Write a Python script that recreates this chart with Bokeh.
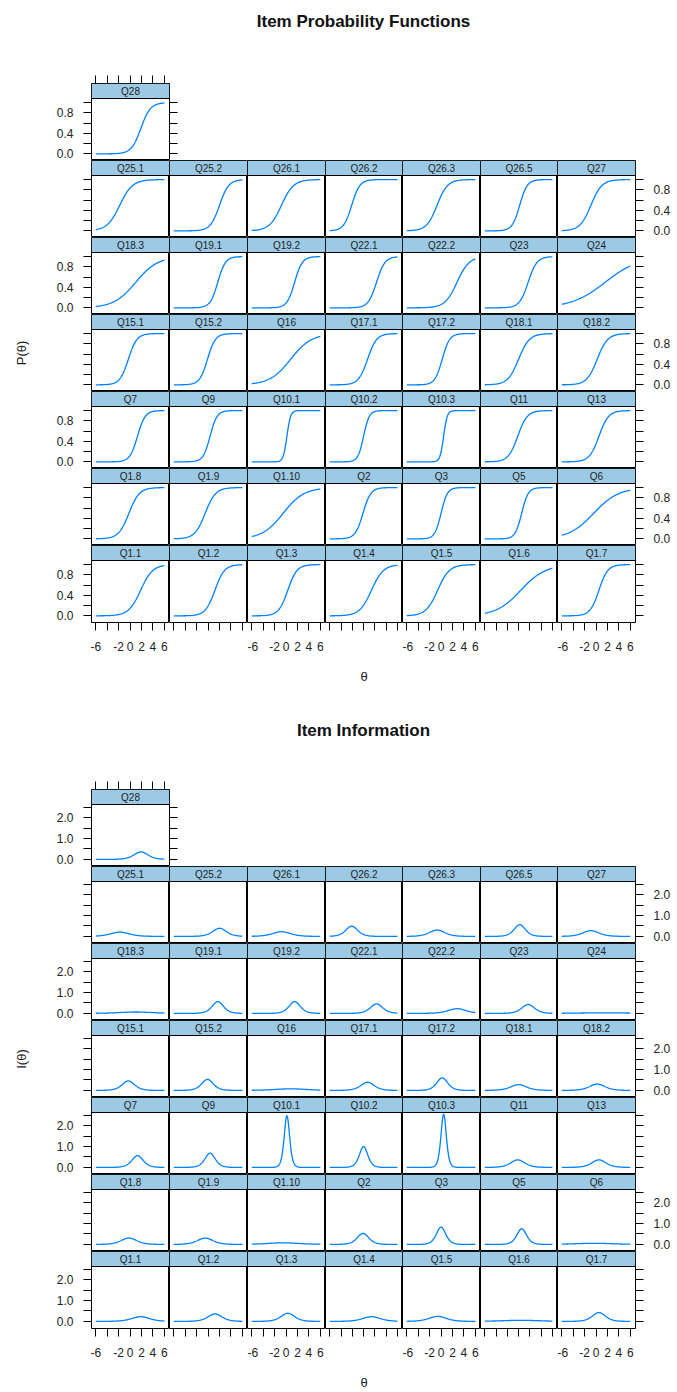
import numpy as np
from bokeh.plotting import figure
from bokeh.models import Range1d, LinearAxis, FixedTicker, PrintfTickFormatter
from bokeh.core.properties import value
from bokeh.layouts import column, row
from bokeh.embed import file_html
from bokeh.resources import INLINE

# ---------------- data ----------------
panel_rows = [
    ["Q28"],
    ["Q25.1", "Q25.2", "Q26.1", "Q26.2", "Q26.3", "Q26.5", "Q27"],
    ["Q18.3", "Q19.1", "Q19.2", "Q22.1", "Q22.2", "Q23", "Q24"],
    ["Q15.1", "Q15.2", "Q16", "Q17.1", "Q17.2", "Q18.1", "Q18.2"],
    ["Q7", "Q9", "Q10.1", "Q10.2", "Q10.3", "Q11", "Q13"],
    ["Q1.8", "Q1.9", "Q1.10", "Q2", "Q3", "Q5", "Q6"],
    ["Q1.1", "Q1.2", "Q1.3", "Q1.4", "Q1.5", "Q1.6", "Q1.7"],
]
item_names = [n for r in panel_rows for n in r]
# item discrimination (slope) and difficulty (location), per item above
discrimination = [1.20,
                  0.90, 1.25, 0.95, 1.40, 1.10, 1.50, 1.05,
                  0.52, 1.50, 1.50, 1.35, 0.95, 1.30, 0.34,
                  1.35, 1.45, 0.55, 1.25, 1.55, 1.05, 1.10,
                  1.50, 1.65, 3.15, 2.00, 3.20, 1.20, 1.20,
                  1.10, 1.10, 0.55, 1.45, 1.82, 1.73, 0.46,
                  0.95, 1.20, 1.25, 0.95, 0.98, 0.46, 1.30]
difficulty = [1.90,
              -1.80, 2.00, -0.80, -2.10, -0.70, 0.20, -0.90,
              1.00, 1.70, 1.50, 2.30, 2.80, 1.70, 1.60,
              -0.30, -0.10, 0.80, 0.70, 0.20, 0.00, 0.20,
              1.30, 0.35, 0.15, 0.00, 0.45, -0.15, 0.50,
              -0.20, -0.50, -0.50, -0.10, 0.00, 0.55, -0.40,
              1.85, 1.20, 0.30, 1.40, -0.60, 0.40, 0.50]
theta = np.linspace(-6, 6, 121)

x_ticks_labeled = [-6, -2, 0, 2, 4, 6]
x_ticks_unlabeled = [-4]
p_ticks_labeled = [0.0, 0.4, 0.8]
p_ticks_unlabeled = [0.2, 0.6, 1.0]
i_ticks_labeled = [0.0, 1.0, 2.0]
i_ticks_unlabeled = [0.5, 1.5, 2.5]

params = dict(zip(item_names, zip(discrimination, difficulty)))


def prob(name):
    a, b = params[name]
    return 1.0 / (1.0 + np.exp(-a * (theta - b)))


def info(name):
    a, b = params[name]
    pr = prob(name)
    return a * a * pr * (1 - pr)


# ---------------- layout constants ----------------
COL_W = [78, 78, 78, 77, 78, 77, 78]
L_BORDER, R_BORDER = 91, 42
FRAME_H, STRIP_H = 77, 15
PANEL_H = FRAME_H - STRIP_H
TICK = 8
X_LO, X_HI = -6.75, 6.9
FONT = "Liberation Sans"
LINE_COLOR = "#0080ff"
STRIP_COLOR = "#9ccae5"
TEXT_COLOR = "#222222"


def make_axis(ticks, minor, labels, fmt, standoff=10, axis_label=None, label_standoff=0):
    if labels:
        ticker = FixedTicker(ticks=ticks, minor_ticks=minor)
    else:
        ticker = FixedTicker(ticks=[], minor_ticks=sorted(list(ticks) + list(minor)))
    ax = LinearAxis(ticker=ticker, formatter=PrintfTickFormatter(format=fmt))
    ax.axis_line_color = None
    ax.major_tick_in = 0
    ax.minor_tick_in = 0
    ax.major_tick_out = TICK
    ax.minor_tick_out = TICK
    ax.major_tick_line_color = "black"
    ax.minor_tick_line_color = "black"
    ax.major_label_text_font = FONT
    ax.major_label_text_color = TEXT_COLOR
    ax.major_label_text_font_size = "12px"
    ax.major_label_standoff = standoff if labels else 0
    if axis_label:
        ax.axis_label = axis_label
        ax.axis_label_standoff = label_standoff
        ax.axis_label_text_font = FONT
        ax.axis_label_text_font_style = "normal"
        ax.axis_label_text_font_size = "13px"
        ax.axis_label_text_color = TEXT_COLOR
    return ax


def panel(name, c, k, cfg):
    top_row = (k == 7)
    lb = L_BORDER if c == 0 else 0
    rb = R_BORDER if c == 6 else (10 if top_row else 0)
    tb = 10 if top_row else 0
    bb = cfg["bottom"] if k == 1 else 0
    ylo, yhi = cfg["ylim"]
    yend = yhi + (yhi - ylo) * STRIP_H / PANEL_H
    p = figure(frame_width=COL_W[c], frame_height=FRAME_H,
               x_range=Range1d(X_LO, X_HI), y_range=Range1d(ylo, yend),
               x_axis_location=None, y_axis_location=None,
               output_backend="svg", toolbar_location=None,
               title_location=None,
               min_border_left=lb, min_border_right=rb,
               min_border_top=tb, min_border_bottom=bb,
               outline_line_color="black", outline_line_width=1,
               background_fill_color="white", border_fill_color="white")
    p.extra_y_ranges = {"strip": Range1d(-PANEL_H / STRIP_H, 1)}
    p.xgrid.visible = False
    p.ygrid.visible = False
    # strip
    p.quad(left=[X_LO], right=[X_HI], bottom=[0], top=[1], y_range_name="strip",
           fill_color=STRIP_COLOR, line_color="black", line_width=1)
    p.text(x=[(X_LO + X_HI) / 2], y=[0.45], text=[name], y_range_name="strip",
           text_font=value(FONT), text_font_size="10px", text_color=TEXT_COLOR,
           text_align="center", text_baseline="middle")
    # curve
    p.line(theta, cfg["fn"](name), line_color=LINE_COLOR, line_width=1.3)

    yt, ym = cfg["yticks"]
    # left axis
    if c == 0:
        if k % 2 == 1:
            p.add_layout(make_axis(yt, ym, True, "%.1f"), "left")
        else:
            lab = cfg["ylabel"] if k == 4 else None
            p.add_layout(make_axis(yt, ym, False, "%.1f", axis_label=lab,
                                   label_standoff=55), "left")
    # right axis
    if c == 6 or top_row:
        show = (k % 2 == 0) and c == 6
        p.add_layout(make_axis(yt, ym, show, "%.1f"), "right")
    # bottom axis
    if k == 1:
        show = (c % 2 == 0)
        lab = "\u03b8" if c == 3 else None
        p.add_layout(make_axis(x_ticks_labeled, x_ticks_unlabeled, show, "%d",
                               standoff=11, axis_label=lab, label_standoff=38), "below")
    if top_row:
        p.add_layout(make_axis(x_ticks_labeled, x_ticks_unlabeled, False, "%d"), "above")
    return p


def header(text, h, y_from_top):
    p = figure(width=677, height=h, x_range=Range1d(0, 677), y_range=Range1d(0, h),
               x_axis_location=None, y_axis_location=None,
               output_backend="svg", toolbar_location=None, title_location=None,
               min_border_left=0, min_border_right=0, min_border_top=0, min_border_bottom=0,
               outline_line_color=None, background_fill_color="white",
               border_fill_color="white")
    p.xgrid.visible = False
    p.ygrid.visible = False
    p.text(x=[363], y=[h - y_from_top], text=[text], text_font=value(FONT),
           text_font_style="bold", text_font_size="17px", text_color="#111111",
           text_align="center", text_baseline="middle")
    return p


def block(cfg):
    out = []
    for i, names in enumerate(panel_rows):
        k = 7 - i
        figs = [panel(n, c, k, cfg) for c, n in enumerate(names)]
        out.append(row(*figs))
    return out


cfg_p = dict(fn=prob, ylim=(-0.13, 1.08), yticks=(p_ticks_labeled, p_ticks_unlabeled),
             ylabel="P(\u03b8)", bottom=65)
cfg_i = dict(fn=info, ylim=(-0.34, 2.63), yticks=(i_ticks_labeled, i_ticks_unlabeled),
             ylabel="I(\u03b8)", bottom=64)

children = [header("Item Probability Functions", 73, 21)]
children += block(cfg_p)
children.append(header("Item Information", 92, 43))
children += block(cfg_i)
page = column(*children)

open("out.html", "w").write(file_html(page, INLINE))
